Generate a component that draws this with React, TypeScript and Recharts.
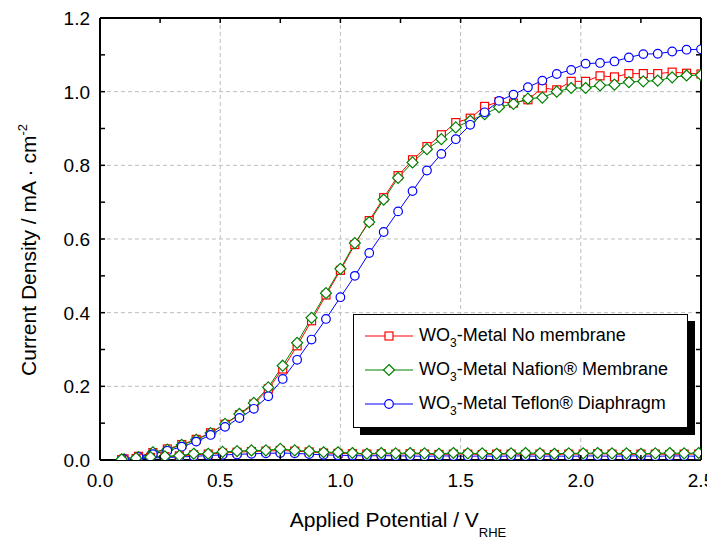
import React from 'react';
import { LineChart, Line, XAxis, YAxis, CartesianGrid, Legend } from 'recharts';

// potentials (V vs RHE) where the markers sit, light and dark scans
const potentials = [0.10, 0.16, 0.22, 0.28, 0.34, 0.40, 0.46, 0.52, 0.58, 0.64, 0.70, 0.76, 0.82, 0.88, 0.94, 1.00, 1.06, 1.12, 1.18, 1.24, 1.30, 1.36, 1.42, 1.48, 1.54, 1.60, 1.66, 1.72, 1.78, 1.84, 1.90, 1.96, 2.02, 2.08, 2.14, 2.20, 2.26, 2.32, 2.38, 2.44, 2.50];
const darkPotentials = [0.09, 0.15, 0.21, 0.27, 0.33, 0.39, 0.45, 0.51, 0.57, 0.63, 0.69, 0.75, 0.81, 0.87, 0.93, 0.99, 1.05, 1.11, 1.17, 1.23, 1.29, 1.35, 1.41, 1.47, 1.53, 1.59, 1.65, 1.71, 1.77, 1.83, 1.89, 1.95, 2.01, 2.07, 2.13, 2.19, 2.25, 2.31, 2.37, 2.43, 2.49];

// photocurrent, mA/cm2
const noMembrane = [0.003, 0.010, 0.020, 0.030, 0.042, 0.056, 0.074, 0.097, 0.123, 0.152, 0.193, 0.247, 0.310, 0.378, 0.448, 0.515, 0.585, 0.650, 0.712, 0.772, 0.815, 0.851, 0.883, 0.916, 0.928, 0.960, 0.973, 0.969, 0.978, 1.010, 1.005, 1.028, 1.028, 1.043, 1.040, 1.049, 1.049, 1.049, 1.053, 1.050, 1.048];
const nafion = [0.002, 0.008, 0.021, 0.028, 0.041, 0.055, 0.073, 0.098, 0.125, 0.155, 0.197, 0.256, 0.318, 0.386, 0.453, 0.519, 0.589, 0.646, 0.707, 0.766, 0.808, 0.844, 0.871, 0.903, 0.921, 0.939, 0.958, 0.967, 0.981, 0.984, 1.000, 1.010, 1.010, 1.017, 1.019, 1.026, 1.028, 1.030, 1.039, 1.044, 1.045];
const teflon = [0.002, 0.008, 0.016, 0.025, 0.036, 0.050, 0.068, 0.090, 0.114, 0.139, 0.173, 0.220, 0.272, 0.327, 0.383, 0.442, 0.500, 0.562, 0.619, 0.675, 0.730, 0.786, 0.831, 0.871, 0.910, 0.944, 0.975, 0.992, 1.012, 1.030, 1.048, 1.059, 1.076, 1.078, 1.082, 1.093, 1.102, 1.103, 1.109, 1.114, 1.115];

// dark current, mA/cm2
const noMembraneDark = [0.001, 0.004, 0.007, 0.009, 0.011, 0.014, 0.016, 0.019, 0.021, 0.023, 0.024, 0.026, 0.024, 0.022, 0.019, 0.018, 0.017, 0.016, 0.017, 0.016, 0.017, 0.016, 0.015, 0.016, 0.016, 0.015, 0.016, 0.016, 0.015, 0.016, 0.015, 0.016, 0.016, 0.017, 0.016, 0.015, 0.016, 0.016, 0.015, 0.016, 0.016];
const nafionDark = [0.002, 0.005, 0.008, 0.010, 0.012, 0.017, 0.017, 0.022, 0.024, 0.026, 0.026, 0.030, 0.026, 0.024, 0.021, 0.021, 0.019, 0.017, 0.019, 0.018, 0.019, 0.018, 0.017, 0.019, 0.018, 0.018, 0.017, 0.018, 0.019, 0.018, 0.017, 0.018, 0.018, 0.019, 0.018, 0.018, 0.017, 0.018, 0.019, 0.018, 0.019];
const teflonDark = [0.001, 0.003, 0.005, 0.007, 0.008, 0.010, 0.012, 0.014, 0.015, 0.017, 0.018, 0.019, 0.018, 0.016, 0.014, 0.013, 0.012, 0.011, 0.012, 0.011, 0.011, 0.010, 0.011, 0.011, 0.010, 0.011, 0.010, 0.011, 0.011, 0.010, 0.011, 0.010, 0.011, 0.011, 0.010, 0.011, 0.011, 0.010, 0.011, 0.011, 0.010];

const xTicks = [0, 0.25, 0.5, 0.75, 1, 1.25, 1.5, 1.75, 2, 2.25, 2.5];
const yTicks = [0, 0.1, 0.2, 0.3, 0.4, 0.5, 0.6, 0.7, 0.8, 0.9, 1.0, 1.1, 1.2];
const xGrid = [0.5, 1, 1.5, 2];
const yGrid = [0.2, 0.4, 0.6, 0.8, 1.0];

const FONT = '"Liberation Sans", Arial, sans-serif';
const RED = '#ff0000';
const GREEN = '#008000';
const BLUE = '#0000ff';

const build = (xs: number[], ys: number[]) => xs.map((v, i) => ({ v, j: ys[i] }));

const isMajor = (v: number, step: number) => Math.abs(v / step - Math.round(v / step)) < 1e-6;

const BottomTick = (p: any) => {
	const v = p.payload.value;
	return (
		<g>
			<line x1={p.x} x2={p.x} y1={p.y} y2={p.y - 5} stroke="#000" strokeWidth={1.5} />
			{isMajor(v, 0.5) && (
				<text x={p.x} y={p.y + 27} textAnchor="middle" fontSize={19} fontFamily={FONT} fill="#000">{v.toFixed(1)}</text>
			)}
		</g>
	);
};
const TopTick = (p: any) => (
	<line x1={p.x} x2={p.x} y1={p.y} y2={p.y + 5} stroke="#000" strokeWidth={1.5} />
);
const LeftTick = (p: any) => {
	const v = p.payload.value;
	return (
		<g>
			<line x1={p.x} x2={p.x + 5} y1={p.y} y2={p.y} stroke="#000" strokeWidth={1.5} />
			{isMajor(v, 0.2) && (
				<text x={p.x - 10} y={p.y + 7} textAnchor="end" fontSize={19} fontFamily={FONT} fill="#000">{v.toFixed(1)}</text>
			)}
		</g>
	);
};
const RightTick = (p: any) => (
	<line x1={p.x} x2={p.x - 5} y1={p.y} y2={p.y} stroke="#000" strokeWidth={1.5} />
);

const square = (color: string) => (p: any) =>
	<rect key={`s${p.index}`} x={p.cx - 4} y={p.cy - 4} width={8} height={8} fill="#fff" stroke={color} strokeWidth={1.2} />;
const diamond = (color: string) => (p: any) =>
	<path key={`d${p.index}`} d={`M${p.cx},${p.cy - 5.5}L${p.cx + 5.5},${p.cy}L${p.cx},${p.cy + 5.5}L${p.cx - 5.5},${p.cy}Z`} fill="#fff" stroke={color} strokeWidth={1.2} />;
const circle = (color: string) => (p: any) =>
	<circle key={`c${p.index}`} cx={p.cx} cy={p.cy} r={4.3} fill="#fff" stroke={color} strokeWidth={1.2} />;

const legendRows = [
	{ color: RED, mark: 'square', label: 'No membrane' },
	{ color: GREEN, mark: 'diamond', label: 'Nafion® Membrane' },
	{ color: BLUE, mark: 'circle', label: 'Teflon® Diaphragm' },
];

const LegendIcon = ({ color, mark }: { color: string; mark: string }) => (
	<svg width={48} height={16} style={{ display: 'block' }}>
		<line x1={0} x2={48} y1={8} y2={8} stroke={color} strokeWidth={1.2} />
		{mark === 'square' && <rect x={20} y={4} width={8} height={8} fill="#fff" stroke={color} strokeWidth={1.2} />}
		{mark === 'diamond' && <path d="M24,2.5L29.5,8L24,13.5L18.5,8Z" fill="#fff" stroke={color} strokeWidth={1.2} />}
		{mark === 'circle' && <circle cx={24} cy={8} r={4.3} fill="#fff" stroke={color} strokeWidth={1.2} />}
	</svg>
);

const renderLegend = () => (
	<div style={{
		boxSizing: 'border-box', width: 335, height: 114, paddingTop: 4, background: '#fff',
		border: '1.5px solid #000', boxShadow: '7px 7px 0 #000', fontFamily: FONT, fontSize: 18, color: '#000',
	}}>
		{legendRows.map((r) => (
			<div key={r.label} style={{ display: 'flex', alignItems: 'center', height: 34, paddingLeft: 11 }}>
				<LegendIcon color={r.color} mark={r.mark} />
				<span style={{ marginLeft: 6, whiteSpace: 'nowrap', lineHeight: '20px' }}>
					WO<sub style={{ fontSize: 12, verticalAlign: 'baseline', position: 'relative', top: 6 }}>3</sub>-Metal {r.label}
				</span>
			</div>
		))}
	</div>
);

const yLabel = () => (
	<text transform="translate(28,242) rotate(-90)" textAnchor="middle" fontSize={21} fontFamily={FONT} fill="#000">
		Current Density / mA · cm<tspan dy={-9} fontSize={13}>-2</tspan>
	</text>
);
const xLabel = () => (
	<text x={390} y={519} textAnchor="middle" fontSize={21} fontFamily={FONT} fill="#000">
		Applied Potential / V<tspan dy={10} fontSize={13}>RHE</tspan>
	</text>
);

export default function App() {
	return (
		<LineChart width={707} height={534} margin={{ top: 9, right: 13, bottom: 0, left: 0 }}>
			<CartesianGrid stroke="#bdbdbd" strokeDasharray="4 3" horizontalValues={yGrid} verticalValues={xGrid} />
			<XAxis dataKey="v" type="number" domain={[0, 2.5]} ticks={xTicks} interval={0} allowDataOverflow
				height={82} tickSize={0} tickMargin={0} tickLine={false} tick={BottomTick}
				axisLine={{ stroke: '#000', strokeWidth: 2 }} label={{ content: xLabel }} />
			<XAxis xAxisId="top" orientation="top" dataKey="v" type="number" domain={[0, 2.5]} ticks={xTicks} interval={0} allowDataOverflow
				height={1} tickSize={0} tickMargin={0} tickLine={false} tick={TopTick}
				axisLine={{ stroke: '#000', strokeWidth: 2 }} />
			<YAxis type="number" domain={[0, 1.2]} ticks={yTicks} interval={0} allowDataOverflow
				width={92} tickSize={0} tickMargin={0} tickLine={false} tick={LeftTick}
				axisLine={{ stroke: '#000', strokeWidth: 2 }} label={{ content: yLabel }} />
			<YAxis yAxisId="right" orientation="right" type="number" domain={[0, 1.2]} ticks={yTicks} interval={0} allowDataOverflow
				width={1} tickSize={0} tickMargin={0} tickLine={false} tick={RightTick}
				axisLine={{ stroke: '#000', strokeWidth: 2 }} />
			<Legend layout="horizontal" verticalAlign="middle" align="center" content={renderLegend}
				wrapperStyle={{ left: 345, top: 306, width: 335, height: 114 }} />
			<Line data={build(potentials, noMembrane)} dataKey="j" name="noMembrane" stroke={RED} strokeWidth={1} dot={square(RED)} isAnimationActive={false} legendType="none" />
			<Line data={build(potentials, nafion)} dataKey="j" name="nafion" stroke={GREEN} strokeWidth={1} dot={diamond(GREEN)} isAnimationActive={false} legendType="none" />
			<Line data={build(potentials, teflon)} dataKey="j" name="teflon" stroke={BLUE} strokeWidth={1} dot={circle(BLUE)} isAnimationActive={false} legendType="none" />
			<Line data={build(darkPotentials, noMembraneDark)} dataKey="j" name="noMembraneDark" stroke={RED} strokeWidth={1} dot={square(RED)} isAnimationActive={false} legendType="none" />
			<Line data={build(darkPotentials, teflonDark)} dataKey="j" name="teflonDark" stroke={BLUE} strokeWidth={1} dot={circle(BLUE)} isAnimationActive={false} legendType="none" />
			<Line data={build(darkPotentials, nafionDark)} dataKey="j" name="nafionDark" stroke={GREEN} strokeWidth={1} dot={diamond(GREEN)} isAnimationActive={false} legendType="none" />
		</LineChart>
	);
}
